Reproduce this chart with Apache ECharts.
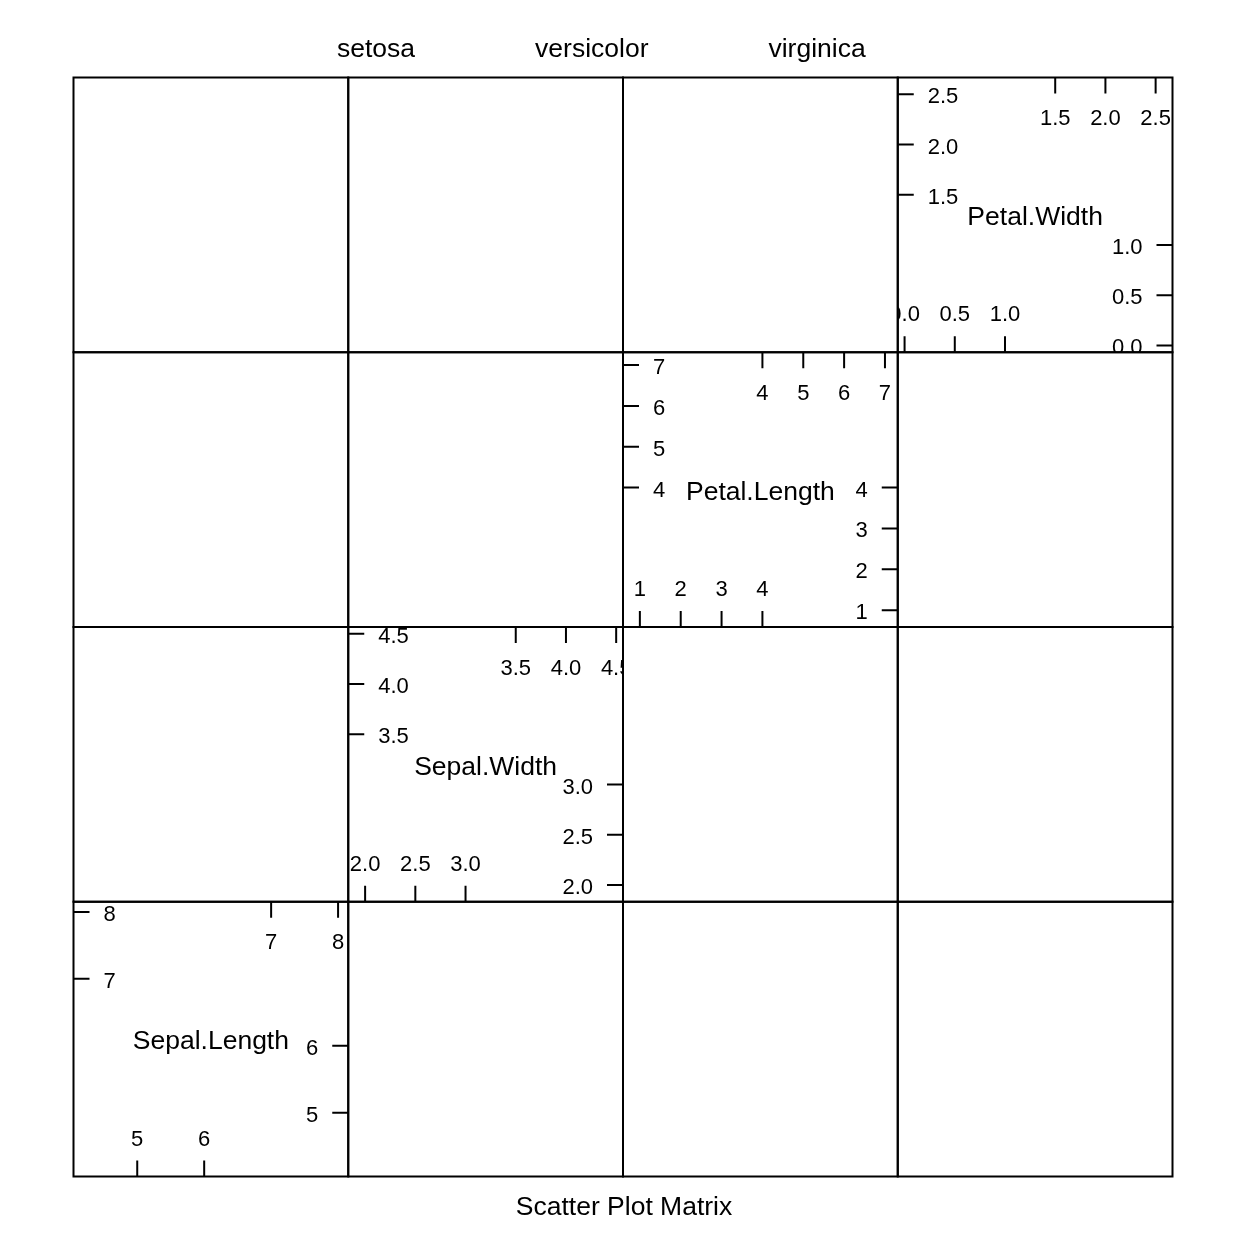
<!DOCTYPE html>
<html>
<head>
<meta charset="utf-8">
<script src="https://cdn.jsdelivr.net/npm/echarts@6/dist/echarts.min.js"></script>
<style>html,body{margin:0;padding:0;background:#fff;}#c{width:1248px;height:1248px;}</style>
</head>
<body>
<div id="c"></div>
<script>
// ---- data ----
const varNames = ['Sepal.Length', 'Sepal.Width', 'Petal.Length', 'Petal.Width'];
const varMin = [4.048, 1.832, 0.587, -0.068];
const varMax = [8.152, 4.568, 7.313, 2.668];
const lowTicks = [[5, 6], [2.0, 2.5, 3.0], [1, 2, 3, 4], [0.0, 0.5, 1.0]];
const highTicks = [[7, 8], [3.5, 4.0, 4.5], [4, 5, 6, 7], [1.5, 2.0, 2.5]];
const lowLabels = [['5', '6'], ['2.0', '2.5', '3.0'], ['1', '2', '3', '4'], ['0.0', '0.5', '1.0']];
const highLabels = [['7', '8'], ['3.5', '4.0', '4.5'], ['4', '5', '6', '7'], ['1.5', '2.0', '2.5']];
const groups = ['setosa', 'versicolor', 'virginica'];
const chartTitle = 'Scatter Plot Matrix';

// ---- layout ----
const N = 4;
const X0 = 73.5, Y0 = 77.5, CELL = 274.75;
const FONT = 'Liberation Sans, Arial, Helvetica, sans-serif';
const TICK = 16;
const BIG = 26.5, SMALL = 22;

const grids = [], xAxes = [], yAxes = [];
const gridIndex = {};
for (let r = 0; r < N; r++) {
  for (let c = 0; c < N; c++) {
    const gi = grids.length;
    gridIndex[r + '_' + c] = gi;
    grids.push({
      left: X0 + c * CELL, top: Y0 + r * CELL, width: CELL, height: CELL,
      show: true, borderColor: '#000', borderWidth: 2, backgroundColor: 'transparent',
      containLabel: false
    });
    const xv = c;           // column variable
    const yv = N - 1 - r;   // row variable (Sepal.Length at bottom)
    xAxes.push({ type: 'value', gridIndex: gi, min: varMin[xv], max: varMax[xv], show: false });
    yAxes.push({ type: 'value', gridIndex: gi, min: varMin[yv], max: varMax[yv], show: false });
  }
}

const series = [];
// empty group series so the legend lists the groups
groups.forEach(g => series.push({ type: 'scatter', name: g, data: [], xAxisIndex: 0, yAxisIndex: 0 }));

// diagonal panels
for (let k = 0; k < N; k++) {
  const r = N - 1 - k, c = k;
  const gi = gridIndex[r + '_' + c];
  const data = [], labels = [];
  lowTicks[k].forEach((v, i) => { data.push([v, 0]); labels.push(lowLabels[k][i]); });   // bottom
  highTicks[k].forEach((v, i) => { data.push([v, 1]); labels.push(highLabels[k][i]); }); // top
  highTicks[k].forEach((v, i) => { data.push([v, 2]); labels.push(highLabels[k][i]); }); // left
  lowTicks[k].forEach((v, i) => { data.push([v, 3]); labels.push(lowLabels[k][i]); });   // right
  data.push([(varMin[k] + varMax[k]) / 2, 4]); labels.push(varNames[k]);                  // name
  series.push({
    type: 'custom',
    xAxisIndex: gi, yAxisIndex: gi,
    clip: true,
    silent: true,
    data: data,
    renderItem: function (params, api) {
      const v = api.value(0), side = api.value(1);
      const cs = params.coordSys;
      const L = cs.x, T = cs.y, R = cs.x + cs.width, B = cs.y + cs.height;
      const txt = labels[params.dataIndex];
      const lineStyle = { stroke: '#000', lineWidth: 2 };
      const tstyle = (x, y, align) => ({ text: txt, x: x, y: y, align: align, verticalAlign: 'middle', fill: '#000', font: SMALL + 'px ' + FONT });
      if (side === 4) {
        const p = api.coord([v, v]);
        return { type: 'text', style: { text: txt, x: p[0], y: p[1] + 3, align: 'center', verticalAlign: 'middle', fill: '#000', font: BIG + 'px ' + FONT } };
      }
      if (side === 0 || side === 1) {
        const px = api.coord([v, varMin[k]])[0];
        const y1 = side === 0 ? B : T;
        const y2 = side === 0 ? B - TICK : T + TICK;
        const ty = side === 0 ? B - 37 : T + 41.5;
        return { type: 'group', children: [
          { type: 'line', shape: { x1: px, y1: y1, x2: px, y2: y2 }, style: lineStyle },
          { type: 'text', style: tstyle(px, ty, 'center') }
        ] };
      }
      const py = api.coord([varMin[k], v])[1];
      const x1 = side === 2 ? L : R;
      const x2 = side === 2 ? L + TICK : R - TICK;
      const tx = side === 2 ? L + 30 : R - 30;
      return { type: 'group', children: [
        { type: 'line', shape: { x1: x1, y1: py, x2: x2, y2: py }, style: lineStyle },
        { type: 'text', style: tstyle(tx, py + 3, side === 2 ? 'left' : 'right') }
      ] };
    }
  });
}

const chart = echarts.init(document.getElementById('c'), null, { renderer: 'canvas' });
chart.setOption({
  animation: false,
  backgroundColor: '#fff',
  title: {
    text: chartTitle, left: 'center', top: 1189,
    textStyle: { fontFamily: FONT, fontSize: BIG, fontWeight: 'normal', color: '#000' }
  },
  legend: {
    data: groups, left: 327, top: 31, itemWidth: 0, itemHeight: 0, itemGap: 115,
    selectedMode: false,
    textStyle: { fontFamily: FONT, fontSize: BIG, color: '#000' }
  },
  grid: grids,
  xAxis: xAxes,
  yAxis: yAxes,
  series: series
});
</script>
</body>
</html>
